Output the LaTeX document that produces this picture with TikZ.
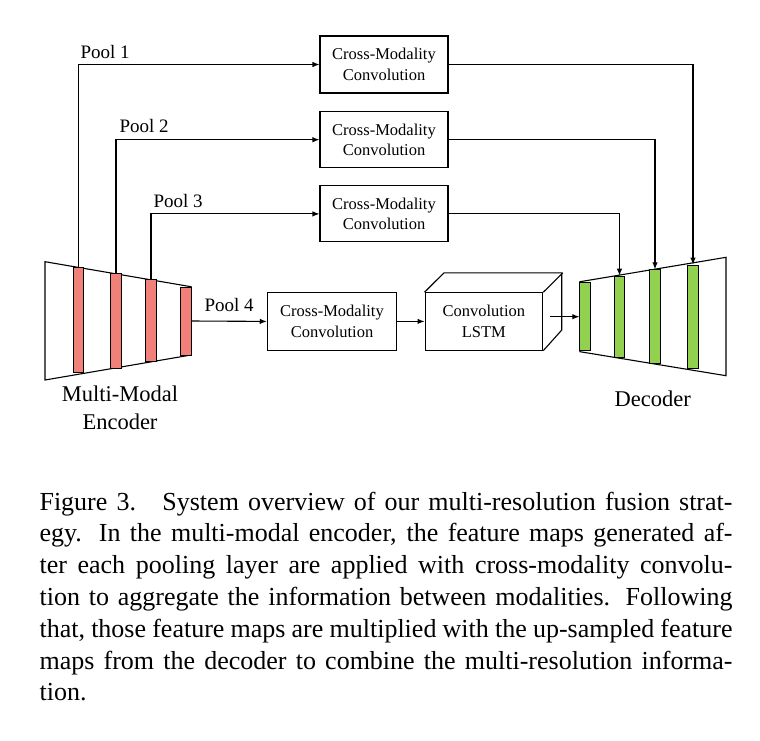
\documentclass[tikz,border=0pt]{standalone}
\usepackage{fontspec}
\setmainfont{Liberation Serif}
\usetikzlibrary{arrows.meta}
\definecolor{encred}{RGB}{240,128,120}
\definecolor{decgreen}{RGB}{146,208,80}
\begin{document}
\begin{tikzpicture}[x=1pt,y=-1pt,line width=1.1pt,
  >={Latex[length=7pt,width=5.5pt]},
  cmbox/.style={draw,line width=1.1pt,minimum width=128pt,minimum height=57pt,inner sep=0pt,align=center,font=\fontsize{16.5}{20.5}\selectfont},
  ebar/.style={draw,line width=0.8pt,fill=encred,minimum width=10.5pt,inner sep=0pt},
  dbar/.style={draw,line width=0.8pt,fill=decgreen,minimum width=10.5pt,inner sep=0pt},
  poollabel/.style={anchor=base west,inner sep=0pt,font=\fontsize{19}{23}\selectfont},
  biglabel/.style={anchor=base,inner sep=0pt,font=\fontsize{22.5}{27}\selectfont},
  capline/.style={anchor=base west,inner sep=0pt,font=\fontsize{26}{32}\selectfont}]
\fill[white] (0,0) rectangle (760,740);
\useasboundingbox (0,0) rectangle (760,740);

% encoder
\draw (45,261.7) -- (191,286.7) -- (191,355) -- (45,380) -- cycle;
\node[ebar,minimum height=104.3pt] (e1) at (78.5,319.9) {};
\node[ebar,minimum height=95pt] (e2) at (116,320.5) {};
\node[ebar,minimum height=82pt] (e3) at (151,320) {};
\node[ebar,minimum height=68pt] (e4) at (186,321) {};
\node[biglabel] (enc1) at (120,401.7) {Multi-Modal};
\node[biglabel] (enc2) at (120,429) {Encoder};

% decoder
\draw (580,281.7) -- (726,257.3) -- (726,375.7) -- (580,351.7) -- cycle;
\node[dbar,minimum height=68pt] (d1) at (585,316.7) {};
\node[dbar,minimum height=81.7pt] (d2) at (619.5,316.9) {};
\node[dbar,minimum height=94pt] (d3) at (655,316.7) {};
\node[dbar,minimum height=103pt] (d4) at (693,316.5) {};
\node[biglabel] (dec) at (652.8,406.7) {Decoder};

% cross-modality boxes
\node[cmbox] (b1) at (384,64.5) {Cross-Modality\\Convolution};
\node[cmbox,minimum height=56pt] (b2) at (384,139.7) {Cross-Modality\\Convolution};
\node[cmbox,minimum height=56pt] (b3) at (384,213.9) {Cross-Modality\\Convolution};
\node[cmbox,minimum width=129.4pt,minimum height=57.3pt] (b4) at (332,321.4) {Cross-Modality\\Convolution};

% conv LSTM cube
\node[cmbox,minimum width=117.7pt,minimum height=57.3pt] (lstm) at (483.9,321.4) {Convolution\\LSTM};
\draw[line join=miter] (lstm.north west) -- ++(19.5,-19.4) -- ++(117.7,0) -- ++(0,57.3) -- (lstm.south east);
\draw (lstm.north east) -- ++(19.5,-19.4);

% pool labels
\node[poollabel] (p1) at (80,58.3) {Pool 1};
\node[poollabel] (p2) at (119,132.7) {Pool 2};
\node[poollabel] (p3) at (153,207) {Pool 3};
\node[poollabel] (p4) at (204,311.7) {Pool 4};

% connectors
\draw[->] (e1.north) |- (b1.west);
\draw[->] (e2.north) |- (b2.west);
\draw[->] (e3.north) |- (b3.west);
\draw[->] (e4.east) -- (b4.west);
\draw[->] (b4.east) -- (lstm.west);
\coordinate (lstmout) at (550,316.7);
\draw[->] (lstmout) -- (d1.west);
\draw[->] (b1.east) -| (d4.north);
\draw[->] (b2.east) -| (d3.north);
\draw[->] (b3.east) -| (d2.north);

% caption
\node[capline] (c1) at (39,510) {\makebox[693pt][s]{Figure 3.\hspace{10pt} System overview of our multi-resolution fusion strat-}};
\node[capline] (c2) at (39,541.8) {\makebox[693pt][s]{egy. In the multi-modal encoder, the feature maps generated af-}};
\node[capline] (c3) at (39,573.6) {\makebox[693pt][s]{ter each pooling layer are applied with cross-modality convolu-}};
\node[capline] (c4) at (39,605.4) {\makebox[693pt][s]{tion to aggregate the information between modalities. Following}};
\node[capline] (c5) at (39,637.2) {\makebox[693pt][s]{that, those feature maps are multiplied with the up-sampled feature}};
\node[capline] (c6) at (39,669) {\makebox[693pt][s]{maps from the decoder to combine the multi-resolution informa-}};
\node[capline] (c7) at (39,700.8) {tion.};
\end{tikzpicture}
\end{document}
